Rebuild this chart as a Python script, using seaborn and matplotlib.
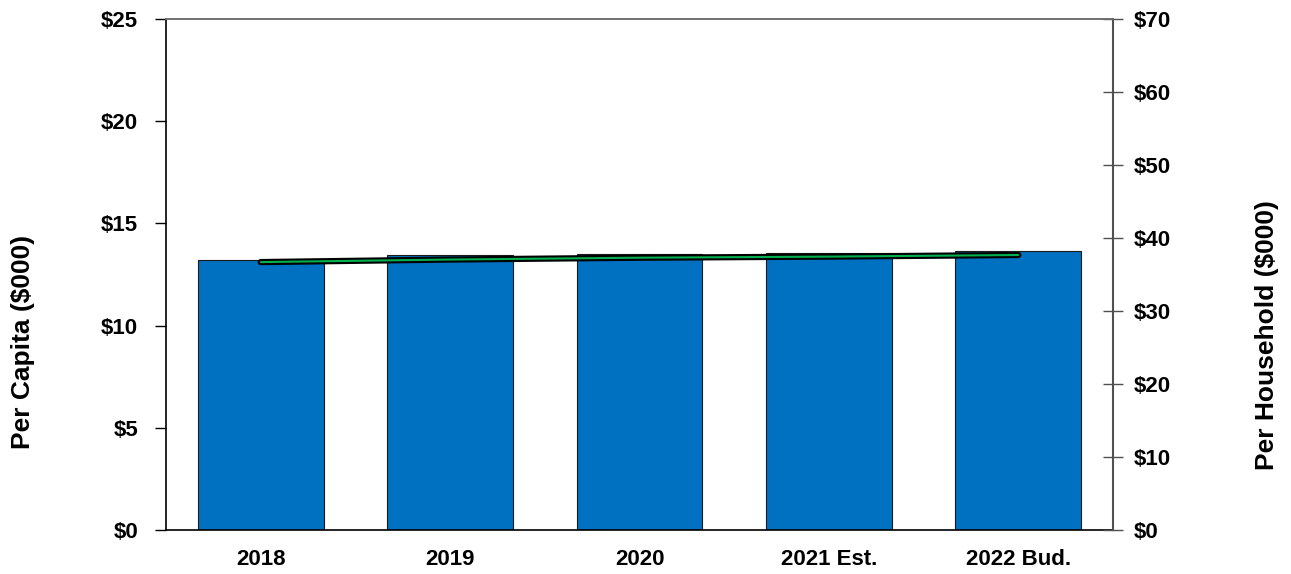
import matplotlib
matplotlib.use("Agg")
import matplotlib.pyplot as plt
import seaborn as sns
import pandas as pd

categories = ["2018", "2019", "2020", "2021 Est.", "2022 Bud."]
per_capita = [13.21, 13.44, 13.50, 13.57, 13.65]
per_household = [36.7, 37.05, 37.3, 37.45, 37.67]
left_ticks = [0, 5, 10, 15, 20, 25]
right_ticks = [0, 10, 20, 30, 40, 50, 60, 70]

sns.set_theme(style="white")
plt.rcParams["font.family"] = ["Liberation Sans", "DejaVu Sans"]
plt.rcParams["font.weight"] = "bold"
plt.rcParams["text.color"] = "black"
plt.rcParams["xtick.color"] = "black"
plt.rcParams["ytick.color"] = "black"
plt.rcParams["axes.labelcolor"] = "black"

df = pd.DataFrame({"year": categories, "capita": per_capita, "household": per_household})

fig = plt.figure(figsize=(12.91, 5.74), dpi=100)
ax = fig.add_axes([166 / 1291, 44 / 574, (1113 - 166) / 1291, (530 - 19) / 574])

sns.barplot(data=df, x="year", y="capita", ax=ax, color="#0070C0", saturation=1,
            width=0.665, edgecolor="#1a1a1a", linewidth=0.8)
ax.set_xlim(-0.5, 4.5)
ax.set_ylim(0, 25)
ax.set_yticks(left_ticks)
ax.set_yticklabels([f"${v}" for v in left_ticks], fontsize=16, fontweight="bold", color="black")
ax.set_xticks(range(len(categories)))
ax.set_xticklabels(categories, fontsize=16, fontweight="bold", color="black")
ax.set_xlabel("")
ax.set_ylabel("")
ax.tick_params(axis="y", direction="out", length=8, width=1, color="black", pad=12, left=True)
ax.tick_params(axis="x", length=0, pad=14)
for side in ["left", "bottom"]:
    ax.spines[side].set_color("black")
    ax.spines[side].set_linewidth(1.2)
for side in ["top", "right"]:
    ax.spines[side].set_color("#707070")
    ax.spines[side].set_linewidth(1.2)

ax2 = ax.twinx()
sns.lineplot(data=df, x="year", y="household", ax=ax2, color="black", linewidth=4.5, sort=False)
sns.lineplot(data=df, x="year", y="household", ax=ax2, color="#00B050", linewidth=1.5, sort=False)
ax2.set_xlim(-0.5, 4.5)
ax2.set_ylim(0, 70)
ax2.set_yticks(right_ticks)
ax2.set_yticklabels([f"${v}" for v in right_ticks], fontsize=16, fontweight="bold", color="black")
ax2.set_ylabel("")
ax2.tick_params(axis="y", direction="inout", length=14, width=1, color="#505050", pad=8, right=True)
for side in ["left", "bottom"]:
    ax2.spines[side].set_visible(False)
ax2.spines["right"].set_color("#505050")
ax2.spines["right"].set_linewidth(1.5)
ax2.spines["top"].set_color("#707070")
ax2.spines["top"].set_linewidth(1.2)
ax2.grid(False)
ax.grid(False)

fig.text(23 / 1291, 1 - 342 / 574, "Per Capita ($000)", rotation=90, fontsize=19,
         fontweight="bold", ha="center", va="center", color="black")
fig.text(1267 / 1291, 1 - 335 / 574, "Per Household ($000)", rotation=90, fontsize=19,
         fontweight="bold", ha="center", va="center", color="black")

fig.savefig("out.png", dpi=100)
